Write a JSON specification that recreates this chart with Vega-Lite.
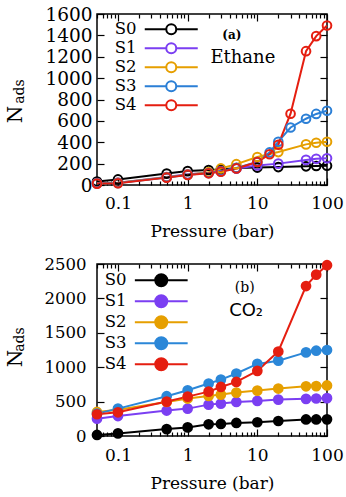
{
  "$schema": "https://vega.github.io/schema/vega-lite/v6.json",
  "padding": {"left": 4, "top": 4, "right": 0, "bottom": 0},
  "spacing": 15,
  "config": {
    "font": "DejaVu Serif",
    "view": {"stroke": "black", "strokeWidth": 1.5},
    "axis": {"grid": false, "domain": false, "labelFont": "DejaVu Serif", "titleFont": "DejaVu Serif", "labelColor": "black", "titleColor": "black", "titleFontWeight": "normal", "tickColor": "black", "tickWidth": 1.2, "labelFlush": false}
  },
  "resolve": {"scale": {"color": "independent"}, "legend": {"color": "independent"}},
  "datasets": {
    "ethane": [
      {"S": "S0", "P": 0.05, "N": 32}, {"S": "S0", "P": 0.1, "N": 52}, {"S": "S0", "P": 0.5, "N": 107}, {"S": "S0", "P": 1, "N": 130}, {"S": "S0", "P": 2, "N": 140}, {"S": "S0", "P": 3, "N": 145}, {"S": "S0", "P": 5, "N": 158}, {"S": "S0", "P": 10, "N": 163}, {"S": "S0", "P": 20, "N": 168}, {"S": "S0", "P": 50, "N": 175}, {"S": "S0", "P": 70, "N": 178}, {"S": "S0", "P": 100, "N": 180},
      {"S": "S1", "P": 0.05, "N": 18}, {"S": "S1", "P": 0.1, "N": 22}, {"S": "S1", "P": 0.5, "N": 75}, {"S": "S1", "P": 1, "N": 100}, {"S": "S1", "P": 2, "N": 115}, {"S": "S1", "P": 3, "N": 130}, {"S": "S1", "P": 5, "N": 155}, {"S": "S1", "P": 10, "N": 183}, {"S": "S1", "P": 20, "N": 200}, {"S": "S1", "P": 50, "N": 235}, {"S": "S1", "P": 70, "N": 245}, {"S": "S1", "P": 100, "N": 250},
      {"S": "S2", "P": 0.05, "N": 15}, {"S": "S2", "P": 0.1, "N": 20}, {"S": "S2", "P": 0.5, "N": 72}, {"S": "S2", "P": 1, "N": 97}, {"S": "S2", "P": 2, "N": 120}, {"S": "S2", "P": 3, "N": 155}, {"S": "S2", "P": 5, "N": 195}, {"S": "S2", "P": 10, "N": 262}, {"S": "S2", "P": 20, "N": 308}, {"S": "S2", "P": 50, "N": 380}, {"S": "S2", "P": 70, "N": 395}, {"S": "S2", "P": 100, "N": 405},
      {"S": "S3", "P": 0.05, "N": 15}, {"S": "S3", "P": 0.1, "N": 18}, {"S": "S3", "P": 0.5, "N": 70}, {"S": "S3", "P": 1, "N": 95}, {"S": "S3", "P": 2, "N": 112}, {"S": "S3", "P": 3, "N": 128}, {"S": "S3", "P": 5, "N": 160}, {"S": "S3", "P": 10, "N": 215}, {"S": "S3", "P": 15, "N": 305}, {"S": "S3", "P": 20, "N": 405}, {"S": "S3", "P": 30, "N": 538}, {"S": "S3", "P": 50, "N": 620}, {"S": "S3", "P": 70, "N": 665}, {"S": "S3", "P": 100, "N": 695},
      {"S": "S4", "P": 0.05, "N": 13}, {"S": "S4", "P": 0.1, "N": 16}, {"S": "S4", "P": 0.5, "N": 69}, {"S": "S4", "P": 1, "N": 94}, {"S": "S4", "P": 2, "N": 109}, {"S": "S4", "P": 3, "N": 125}, {"S": "S4", "P": 5, "N": 155}, {"S": "S4", "P": 10, "N": 215}, {"S": "S4", "P": 15, "N": 288}, {"S": "S4", "P": 20, "N": 377}, {"S": "S4", "P": 30, "N": 667}, {"S": "S4", "P": 50, "N": 1252}, {"S": "S4", "P": 70, "N": 1393}, {"S": "S4", "P": 100, "N": 1492}
    ],
    "co2": [
      {"S": "S0", "P": 0.05, "N": 15}, {"S": "S0", "P": 0.1, "N": 38}, {"S": "S0", "P": 0.5, "N": 100}, {"S": "S0", "P": 1, "N": 125}, {"S": "S0", "P": 2, "N": 170}, {"S": "S0", "P": 3, "N": 175}, {"S": "S0", "P": 5, "N": 190}, {"S": "S0", "P": 10, "N": 200}, {"S": "S0", "P": 20, "N": 218}, {"S": "S0", "P": 50, "N": 240}, {"S": "S0", "P": 70, "N": 240}, {"S": "S0", "P": 100, "N": 242},
      {"S": "S1", "P": 0.05, "N": 252}, {"S": "S1", "P": 0.1, "N": 290}, {"S": "S1", "P": 0.5, "N": 370}, {"S": "S1", "P": 1, "N": 398}, {"S": "S1", "P": 2, "N": 456}, {"S": "S1", "P": 3, "N": 471}, {"S": "S1", "P": 5, "N": 495}, {"S": "S1", "P": 10, "N": 510}, {"S": "S1", "P": 20, "N": 529}, {"S": "S1", "P": 50, "N": 540}, {"S": "S1", "P": 70, "N": 545}, {"S": "S1", "P": 100, "N": 550},
      {"S": "S2", "P": 0.05, "N": 350}, {"S": "S2", "P": 0.1, "N": 383}, {"S": "S2", "P": 0.5, "N": 495}, {"S": "S2", "P": 1, "N": 544}, {"S": "S2", "P": 2, "N": 583}, {"S": "S2", "P": 3, "N": 602}, {"S": "S2", "P": 5, "N": 631}, {"S": "S2", "P": 10, "N": 660}, {"S": "S2", "P": 20, "N": 690}, {"S": "S2", "P": 50, "N": 722}, {"S": "S2", "P": 70, "N": 725}, {"S": "S2", "P": 100, "N": 735},
      {"S": "S3", "P": 0.05, "N": 325}, {"S": "S3", "P": 0.1, "N": 398}, {"S": "S3", "P": 0.5, "N": 578}, {"S": "S3", "P": 1, "N": 665}, {"S": "S3", "P": 2, "N": 762}, {"S": "S3", "P": 3, "N": 820}, {"S": "S3", "P": 5, "N": 908}, {"S": "S3", "P": 10, "N": 1048}, {"S": "S3", "P": 20, "N": 1095}, {"S": "S3", "P": 50, "N": 1215}, {"S": "S3", "P": 70, "N": 1240}, {"S": "S3", "P": 100, "N": 1250},
      {"S": "S4", "P": 0.05, "N": 316}, {"S": "S4", "P": 0.1, "N": 345}, {"S": "S4", "P": 0.5, "N": 500}, {"S": "S4", "P": 1, "N": 572}, {"S": "S4", "P": 2, "N": 645}, {"S": "S4", "P": 3, "N": 713}, {"S": "S4", "P": 5, "N": 786}, {"S": "S4", "P": 10, "N": 947}, {"S": "S4", "P": 20, "N": 1228}, {"S": "S4", "P": 50, "N": 2180}, {"S": "S4", "P": 70, "N": 2345}, {"S": "S4", "P": 100, "N": 2483}
    ]
  },
  "vconcat": [
    {
      "width": 230,
      "height": 171,
      "data": {"name": "ethane"},
      "resolve": {"axis": {"x": "independent", "y": "independent"}},
      "layer": [
        {
          "mark": {"type": "point", "opacity": 0},
          "encoding": {
            "x": {"field": "P", "type": "quantitative", "scale": {"type": "log", "domain": [0.05, 100], "nice": false},
              "axis": {"orient": "bottom", "labels": false, "title": null, "values": [0.05,0.06,0.07,0.08,0.09,0.1,0.2,0.3,0.4,0.5,0.6,0.7,0.8,0.9,1,2,3,4,5,6,7,8,9,10,20,30,40,50,60,70,80,90,100],
                "tickSize": {"condition": {"test": "datum.value == 0.1 || datum.value == 1 || datum.value == 10 || datum.value == 100", "value": -7}, "value": -4}}},
            "y": {"field": "N", "type": "quantitative", "scale": {"domain": [0, 1600], "nice": false},
              "axis": {"orient": "left", "labels": false, "title": null, "values": [0,200,400,600,800,1000,1200,1400,1600], "tickSize": -7}}
          }
        },
        {
          "mark": {"type": "point", "opacity": 0},
          "encoding": {
            "x": {"field": "P", "type": "quantitative",
              "axis": {"orient": "top", "labels": false, "title": null, "values": [0.05,0.06,0.07,0.08,0.09,0.1,0.2,0.3,0.4,0.5,0.6,0.7,0.8,0.9,1,2,3,4,5,6,7,8,9,10,20,30,40,50,60,70,80,90,100],
                "tickSize": {"condition": {"test": "datum.value == 0.1 || datum.value == 1 || datum.value == 10 || datum.value == 100", "value": -7}, "value": -4}}},
            "y": {"field": "N", "type": "quantitative",
              "axis": {"orient": "right", "labels": false, "title": null, "values": [0,200,400,600,800,1000,1200,1400,1600], "tickSize": -7}}
          }
        },
        {
          "mark": {"type": "point", "opacity": 0},
          "encoding": {
            "x": {"field": "P", "type": "quantitative", "axis": null},
            "y": {"field": "N", "type": "quantitative",
              "axis": {"orient": "left", "labels": false, "ticks": false, "title": "ads", "titleFontSize": 14, "titleAngle": -90, "titleBaseline": "top", "titleAlign": "center", "titleX": -85, "titleY": 77}}
          }
        },
        {
          "mark": {"type": "line", "strokeWidth": 2, "point": {"filled": false, "size": 75, "strokeWidth": 2}},
          "encoding": {
            "x": {"field": "P", "type": "quantitative",
              "axis": {"orient": "bottom", "values": [0.1, 1, 10, 100], "format": "~g", "ticks": false, "labelFontSize": 17, "labelPadding": 10, "title": "Pressure (bar)", "titleFontSize": 17, "titlePadding": 12}},
            "y": {"field": "N", "type": "quantitative",
              "axis": {"orient": "left", "values": [0,200,400,600,800,1000,1200,1400,1600], "format": "d", "ticks": false, "labelFontSize": 18.5, "labelPadding": 5, "title": "N", "titleFontSize": 20, "titleAngle": -90, "titleBaseline": "top", "titleAlign": "center", "titleX": -92, "titleY": 100}},
            "color": {"field": "S", "type": "nominal",
              "scale": {"domain": ["S0", "S1", "S2", "S3", "S4"], "range": ["#000000", "#7b3ff2", "#e69f00", "#2b7fd6", "#e51e10"]},
              "legend": {"title": null, "orient": "none", "legendX": 66, "legendY": 7, "rowPadding": 0, "symbolType": "M-5.3,0L-1,0M1,0L5.3,0M-1,0A1,1,0,1,1,1,0A1,1,0,1,1,-1,0Z", "symbolSize": 100, "symbolStrokeWidth": 2, "labelFontSize": 16.5, "labelAlign": "right", "labelOffset": -43, "labelColor": "black"}}
          }
        },
        {
          "data": {"values": [{"t": "(a)", "P": 4.3, "N": 1400}]},
          "mark": {"type": "text", "fontSize": 12, "fontWeight": "bold", "font": "DejaVu Serif", "color": "black"},
          "encoding": {"x": {"field": "P", "type": "quantitative", "axis": null}, "y": {"field": "N", "type": "quantitative", "axis": null}, "text": {"field": "t"}}
        },
        {
          "data": {"values": [{"t": "Ethane", "P": 6.2, "N": 1185}]},
          "mark": {"type": "text", "fontSize": 18, "font": "DejaVu Serif", "color": "black"},
          "encoding": {"x": {"field": "P", "type": "quantitative", "axis": null}, "y": {"field": "N", "type": "quantitative", "axis": null}, "text": {"field": "t"}}
        }
      ]
    },
    {
      "width": 230,
      "height": 172,
      "data": {"name": "co2"},
      "resolve": {"axis": {"x": "independent", "y": "independent"}},
      "layer": [
        {
          "mark": {"type": "point", "opacity": 0},
          "encoding": {
            "x": {"field": "P", "type": "quantitative", "scale": {"type": "log", "domain": [0.05, 100], "nice": false},
              "axis": {"orient": "bottom", "labels": false, "title": null, "values": [0.05,0.06,0.07,0.08,0.09,0.1,0.2,0.3,0.4,0.5,0.6,0.7,0.8,0.9,1,2,3,4,5,6,7,8,9,10,20,30,40,50,60,70,80,90,100],
                "tickSize": {"condition": {"test": "datum.value == 0.1 || datum.value == 1 || datum.value == 10 || datum.value == 100", "value": -7}, "value": -4}}},
            "y": {"field": "N", "type": "quantitative", "scale": {"domain": [0, 2500], "nice": false},
              "axis": {"orient": "left", "labels": false, "title": null, "values": [0,500,1000,1500,2000,2500], "tickSize": -7}}
          }
        },
        {
          "mark": {"type": "point", "opacity": 0},
          "encoding": {
            "x": {"field": "P", "type": "quantitative",
              "axis": {"orient": "top", "labels": false, "title": null, "values": [0.05,0.06,0.07,0.08,0.09,0.1,0.2,0.3,0.4,0.5,0.6,0.7,0.8,0.9,1,2,3,4,5,6,7,8,9,10,20,30,40,50,60,70,80,90,100],
                "tickSize": {"condition": {"test": "datum.value == 0.1 || datum.value == 1 || datum.value == 10 || datum.value == 100", "value": -7}, "value": -4}}},
            "y": {"field": "N", "type": "quantitative",
              "axis": {"orient": "right", "labels": false, "title": null, "values": [0,500,1000,1500,2000,2500], "tickSize": -7}}
          }
        },
        {
          "mark": {"type": "point", "opacity": 0},
          "encoding": {
            "x": {"field": "P", "type": "quantitative", "axis": null},
            "y": {"field": "N", "type": "quantitative",
              "axis": {"orient": "left", "labels": false, "ticks": false, "title": "ads", "titleFontSize": 14, "titleAngle": -90, "titleBaseline": "top", "titleAlign": "center", "titleX": -85, "titleY": 75}}
          }
        },
        {
          "mark": {"type": "line", "strokeWidth": 2, "point": {"filled": true, "size": 115, "opacity": 1}},
          "encoding": {
            "x": {"field": "P", "type": "quantitative",
              "axis": {"orient": "bottom", "values": [0.1, 1, 10, 100], "format": "~g", "ticks": false, "labelFontSize": 17, "labelPadding": 11, "title": "Pressure (bar)", "titleFontSize": 17, "titlePadding": 12}},
            "y": {"field": "N", "type": "quantitative",
              "axis": {"orient": "left", "values": [0,500,1000,1500,2000,2500], "format": "d", "ticks": false, "labelFontSize": 16.5, "labelPadding": 11, "title": "N", "titleFontSize": 20, "titleAngle": -90, "titleBaseline": "top", "titleAlign": "center", "titleX": -92, "titleY": 94}},
            "color": {"field": "S", "type": "nominal",
              "scale": {"domain": ["S0", "S1", "S2", "S3", "S4"], "range": ["#000000", "#7b3ff2", "#e69f00", "#2b87d8", "#e51e10"]},
              "legend": {"title": null, "orient": "none", "legendX": 56, "legendY": 8, "rowPadding": 0, "symbolType": "M-4.4,0L-1,0M1,0L4.4,0M-1,0A1,1,0,1,1,1,0A1,1,0,1,1,-1,0Z", "symbolSize": 144, "symbolStrokeWidth": 2, "labelFontSize": 16.5, "labelAlign": "right", "labelOffset": -43, "labelColor": "black"}}
          }
        },
        {
          "data": {"values": [{"t": "(b)", "P": 6.6, "N": 2150}]},
          "mark": {"type": "text", "fontSize": 14, "font": "DejaVu Serif", "color": "black"},
          "encoding": {"x": {"field": "P", "type": "quantitative", "axis": null}, "y": {"field": "N", "type": "quantitative", "axis": null}, "text": {"field": "t"}}
        },
        {
          "data": {"values": [{"t": "CO₂", "P": 6.9, "N": 1810}]},
          "mark": {"type": "text", "fontSize": 18, "font": "DejaVu Sans", "color": "black"},
          "encoding": {"x": {"field": "P", "type": "quantitative", "axis": null}, "y": {"field": "N", "type": "quantitative", "axis": null}, "text": {"field": "t"}}
        }
      ]
    }
  ]
}
